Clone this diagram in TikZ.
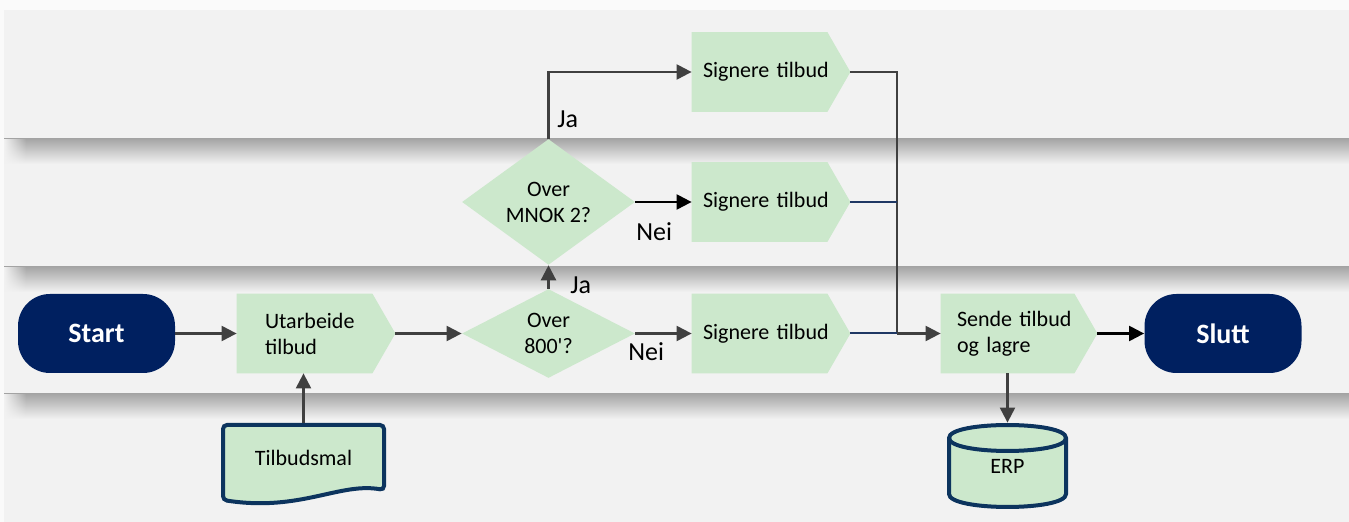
\documentclass[tikz,border=0pt]{standalone}
\usepackage{fontspec}
\newfontfamily\cf{Carlito}
\usetikzlibrary{arrows.meta,shapes.geometric,calc,fadings}
\pgfdeclarelayer{lanes}
\pgfdeclarelayer{bg}
\pgfsetlayers{lanes,bg,main}
\definecolor{lane}{HTML}{F2F2F2}
\definecolor{shadeg}{HTML}{A6A6A6}
\definecolor{pgreen}{HTML}{CCE8CC}
\definecolor{navy}{HTML}{002060}
\definecolor{bord}{HTML}{0C345E}
\definecolor{conn}{HTML}{404040}
\definecolor{lnavy}{HTML}{1F3864}
\tikzfading[name=fadeR, left color=transparent!0, right color=transparent!100]
\tikzset{
  txt/.style={font=\cf\fontsize{11}{13}\selectfont, text=black},
  term/.style={rectangle, rounded corners=16pt, fill=navy, minimum width=78.5pt, minimum height=39.5pt, inner sep=0pt, font=\cf\bfseries\fontsize{14}{16}\selectfont, text=white},
  proc/.style={txt, rectangle, minimum height=39.5pt, align=left, inner ysep=0pt},
  dec/.style={txt, diamond, fill=pgreen, minimum width=86.5pt, minimum height=43.5pt, inner sep=0pt, align=center},
  arr/.style={draw=conn, line width=1.1pt, -{Triangle[length=7.5pt,width=7.5pt]}},
  barr/.style={draw=black, line width=1.1pt, -{Triangle[length=7.5pt,width=7.5pt]}},
  nline/.style={draw=lnavy, line width=1pt},
  cline/.style={draw=conn, line width=1.1pt},
  lbl/.style={font=\cf\fontsize{13}{15}\selectfont, inner sep=0pt, anchor=base west, text=black},
  store/.style={fill=pgreen, draw=bord, line width=2pt},
}
\newcommand{\pent}[1]{\fill[pgreen] (#1.north west) -- ($(#1.north east)+(-23,0)$) -- (#1.east) -- ($(#1.south east)+(-23,0)$) -- (#1.south west) -- cycle;}
\begin{document}
\begin{tikzpicture}[x=0.5pt,y=-0.5pt]
\useasboundingbox (0,0) rectangle (1349,522);
% lanes
\begin{pgfonlayer}{lanes}
\fill[white!98!black] (0,0) rectangle (1349,522);
\fill[lane] (4,10) rectangle (1349,522);
\foreach \yy in {139,267,394}{
  \shade[top color=shadeg, bottom color=lane] (4,\yy) rectangle (1349,\yy+25);
  \fill[lane, path fading=fadeR] (4,\yy) rectangle (26,\yy+25);
}
\end{pgfonlayer}
% nodes
\node[term] (start) at (96.5,333.5) {Start};
\node[proc, text width=51pt, inner xsep=14pt] (ut) at (316,333.5) {Utarbeide\\tilbud};
\node[dec] (d1) at (548.5,333.5) {Over\\800\textquotesingle?};
\node[dec] (d2) at (548.5,202) {Over\\MNOK 2?};
\node[proc, text width=68pt, inner xsep=5.5pt] (s1) at (771,72) {Signere tilbud};
\node[proc, text width=68pt, inner xsep=5.5pt] (s2) at (771,202) {Signere tilbud};
\node[proc, text width=68pt, inner xsep=5.5pt] (s3) at (771,333.5) {Signere tilbud};
\node[proc, text width=62pt, inner xsep=8pt] (sende) at (1019,333.5) {Sende tilbud\\og lagre};
\node[term] (slutt) at (1223,333.5) {Slutt};
\node[txt, minimum width=82.5pt, minimum height=35pt, inner sep=0pt] (tm) at (303.5,458) {Tilbudsmal};
\node[txt, minimum width=60.5pt, minimum height=43pt, inner sep=0pt] (erp) at (1007.5,466) {\raisebox{-4pt}{ERP}};
% shapes behind text
\begin{pgfonlayer}{bg}
\pent{ut}\pent{s1}\pent{s2}\pent{s3}\pent{sende}
\draw[store, rounded corners=2pt] (223,425) -- (384,425) -- (384,490) .. controls (340,482) and (300,512) .. (223,500) -- cycle;
\draw[store] (949,438) -- (949,494) .. controls (949,511.3) and (1066,511.3) .. (1066,494) -- (1066,438) .. controls (1066,420.7) and (949,420.7) .. (949,438) -- cycle;
\draw[draw=bord, line width=2pt] (949,438) .. controls (949,455.3) and (1066,455.3) .. (1066,438);
\end{pgfonlayer}
% labels
\node[lbl] (ja1) at (570,294) {Ja};
\node[lbl] (ja2) at (557,128) {Ja};
\node[lbl] (nei1) at (636,241) {Nei};
\node[lbl] (nei2) at (628,361) {Nei};
% connectors
\coordinate (j) at (897,333.5);
\draw[arr] (start.east) -- (ut.west);
\draw[arr] (ut.east) -- (d1.west);
\draw[arr] (tm.north) -- (tm.north |- ut.south);
\draw[arr] (d1.east) -- (s3.west);
\draw[arr] (d1.north) -- (d2.south);
\draw[barr] (d2.east) -- (s2.west);
\draw[arr] (d2.north) |- (s1.west);
\draw[cline] (s1.east) -| (j);
\draw[nline] (s2.east) -- (s2.east -| j);
\draw[nline] (s3.east) -- (j);
\draw[arr] (j) -- (sende.west);
\draw[barr] (sende.east) -- (slutt.west);
\draw[arr] (erp.north |- sende.south) -- (erp.north);
\end{tikzpicture}
\end{document}
